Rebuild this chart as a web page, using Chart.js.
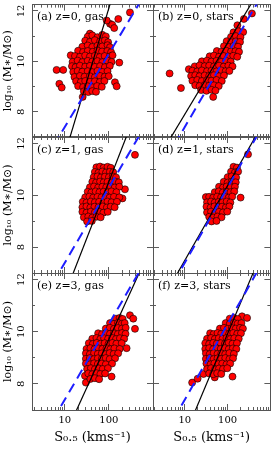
<!DOCTYPE html>
<html>
<head>
<meta charset="utf-8">
<script src="https://cdn.jsdelivr.net/npm/chart.js@4.4.0/dist/chart.umd.min.js"></script>
<style>
  html, body { margin: 0; padding: 0; background: #fff; }
  #wrap { position: relative; width: 275px; height: 451px; }
  #wrap canvas { position: absolute; left: 0; top: 0; }
</style>
</head>
<body>
<div id="wrap">
  <canvas id="pa" width="275" height="451"></canvas>
  <canvas id="pb" width="275" height="451"></canvas>
  <canvas id="pc" width="275" height="451"></canvas>
  <canvas id="pd" width="275" height="451"></canvas>
  <canvas id="pe" width="275" height="451"></canvas>
  <canvas id="pf" width="275" height="451"></canvas>
</div>
<script>
// ---- axis ticks ----
const sTicks = [10, 100];
const sMinorTicks = [2, 3, 4, 5, 6, 7, 8, 9, 20, 30, 40, 50, 60, 70, 80, 90, 200, 300, 400, 500, 600, 700, 800, 900];
const mTicks = [8, 10, 12];
const mMinorTicks = [7, 9, 11];

const panelLabels = ['(a) z=0, gas', '(b) z=0, stars', '(c) z=1, gas',
                     '(d) z=1, stars', '(e) z=3, gas', '(f) z=3, stars'];

// dashed reference relation (same in every panel), [S0.5, log M*]
const refLine = [[1, 4.5], [1000, 13.2]];

// solid fit in each panel
const fitA = [[5, 4.57], [500, 16.17]];
const fitB = [[2, 5.93], [1000, 13.55]];
const fitC = [[5, 4.85], [1000, 14.9]];
const fitD = [[2, 5.47], [1000, 13.27]];
const fitE = [[5, 4.9], [1000, 13.41]];
const fitF = [[5, 4.85], [1000, 13.83]];

// galaxies, [S0.5 (km/s), log10 M*]
const gasZ0 = [
  [6.5, 9.66], [9.2, 9.66], [7.5, 9.11], [8.5, 8.96], [13.6, 10.24], [37, 11.1], [25.4, 8.59],
  [137, 9.17], [150, 9.01], [172, 9.95], [300, 11.94], [106, 11.49], [89, 11.62], [163, 11.68],
  [119, 11.45], [132, 11.32],
  [33, 10.98], [42, 11.03], [55, 10.96], [71, 11.05], [85, 10.99],
  [29, 10.82], [37, 10.77], [48, 10.84], [63, 10.79], [81, 10.83], [96, 10.76],
  [25, 10.58], [33, 10.63], [42, 10.57], [55, 10.62], [71, 10.59], [93, 10.64], [106, 10.56],
  [20, 10.42], [26, 10.37], [33, 10.41], [43, 10.38], [55, 10.43], [70, 10.39], [92, 10.41], [112, 10.36],
  [17, 10.21], [22, 10.18], [29, 10.23], [37, 10.19], [48, 10.22], [62, 10.17], [80, 10.21], [104, 10.19], [121, 10.24],
  [15, 9.98], [19.5, 10.03], [25, 9.97], [33, 10.02], [42, 9.99], [55, 10.01], [71, 9.97], [92, 10.03], [115, 9.98],
  [14.5, 9.81], [17.5, 9.77], [22, 9.83], [29, 9.79], [37, 9.82], [48, 9.78], [63, 9.81], [81, 9.77], [105, 9.82],
  [15.5, 9.58], [19.5, 9.62], [25, 9.59], [33, 9.61], [42, 9.57], [55, 9.62], [71, 9.58], [93, 9.61],
  [16.5, 9.38], [22, 9.42], [28, 9.39], [37, 9.41], [48, 9.37], [63, 9.42], [80, 9.39], [99, 9.41],
  [18, 9.21], [23, 9.18], [29, 9.22], [37, 9.19], [48, 9.21], [62, 9.18], [79, 9.22],
  [20, 9.02], [26, 8.98], [33, 9.01], [42, 8.97], [54, 9.02], [69, 8.99],
  [27, 8.81], [34, 8.78], [42, 8.82], [51, 8.79]
];

const starsZ0 = [
  [4.4, 9.52], [8.1, 8.94], [12.4, 9.69], [46, 8.59], [370, 11.9], [240, 11.68], [169, 11.43],
  [137, 11.15], [178, 11.19], [231, 11.16],
  [120, 10.97], [156, 11.0], [200, 10.96],
  [95, 10.8], [120, 10.76], [155, 10.79], [195, 10.77],
  [82, 10.6], [106, 10.57], [137, 10.61], [175, 10.58],
  [56, 10.41], [72, 10.38], [93, 10.42], [120, 10.39], [152, 10.4], [185, 10.38],
  [38, 10.2], [48, 10.23], [63, 10.18], [81, 10.21], [105, 10.19], [135, 10.22], [168, 10.18],
  [25, 10.0], [33, 10.03], [42, 9.99], [55, 10.02], [71, 9.98], [92, 10.02], [118, 9.99],
  [17, 9.8], [22, 9.84], [29, 9.81], [37, 9.83], [48, 9.8], [63, 9.83], [81, 9.79], [104, 9.83], [130, 9.8],
  [15, 9.63], [19.5, 9.6], [25, 9.64], [33, 9.61], [42, 9.63], [55, 9.6], [71, 9.64], [90, 9.61], [110, 9.62],
  [14, 9.42], [17.5, 9.45], [22, 9.41], [29, 9.44], [37, 9.42], [48, 9.45], [63, 9.41], [82, 9.44],
  [15, 9.23], [19.5, 9.26], [25, 9.22], [33, 9.25], [42, 9.23], [55, 9.26], [73, 9.22],
  [17.5, 9.05], [22, 9.02], [29, 9.06], [37, 9.03], [48, 9.05], [62, 9.02],
  [24, 8.86], [32, 8.83], [42, 8.87], [52, 8.84]
];

const gasZ1 = [
  [231, 10.23], [390, 11.56], [203, 9.88],
  [52, 11.08], [63, 11.11], [76, 11.07], [93, 11.1], [110, 11.06],
  [48, 10.9], [58, 10.87], [71, 10.92], [86, 10.88], [105, 10.91], [125, 10.89],
  [45, 10.7], [55, 10.73], [66, 10.69], [81, 10.72], [100, 10.7], [122, 10.73], [145, 10.69],
  [42, 10.52], [51, 10.49], [63, 10.53], [76, 10.5], [93, 10.52], [115, 10.49], [140, 10.53], [168, 10.5],
  [37, 10.31], [46, 10.34], [57, 10.3], [71, 10.33], [87, 10.31], [110, 10.34], [135, 10.3], [172, 10.33],
  [33, 10.14], [40, 10.11], [50, 10.15], [61, 10.12], [76, 10.14], [93, 10.11], [115, 10.15], [148, 10.12],
  [29, 9.92], [36, 9.95], [44, 9.91], [55, 9.94], [68, 9.92], [84, 9.95], [104, 9.91], [130, 9.94], [172, 9.92],
  [25.5, 9.75], [31, 9.72], [39, 9.76], [48, 9.73], [60, 9.75], [75, 9.72], [93, 9.76], [115, 9.73], [152, 9.75],
  [25, 9.54], [31, 9.57], [38, 9.53], [47, 9.56], [58, 9.54], [72, 9.57], [90, 9.53], [110, 9.56], [135, 9.54],
  [25, 9.36], [31, 9.33], [39, 9.37], [48, 9.34], [60, 9.36], [75, 9.33], [94, 9.36],
  [27, 9.15], [34, 9.18], [42, 9.14], [52, 9.17], [65, 9.15],
  [32, 8.99], [41, 9.01]
];

const starsZ1 = [
  [201, 9.91], [300, 11.58],
  [137, 11.1], [165, 11.07],
  [120, 10.91], [148, 10.88], [176, 10.92],
  [100, 10.7], [125, 10.73], [158, 10.69],
  [81, 10.52], [100, 10.49], [125, 10.53], [155, 10.5],
  [63, 10.33], [78, 10.3], [95, 10.34], [118, 10.31], [148, 10.33],
  [50, 10.12], [62, 10.15], [77, 10.11], [95, 10.14], [117, 10.12], [143, 10.15],
  [31, 9.93], [37, 9.94], [46, 9.91], [57, 9.95], [70, 9.92], [86, 9.94], [106, 9.91], [128, 9.95],
  [33, 9.73], [41, 9.76], [50, 9.72], [62, 9.75], [77, 9.73], [95, 9.76], [116, 9.72],
  [32, 9.56], [40, 9.53], [49, 9.57], [60, 9.54], [74, 9.56], [91, 9.53], [110, 9.57],
  [33, 9.34], [41, 9.37], [51, 9.33], [63, 9.36], [78, 9.34], [98, 9.37],
  [37, 9.17], [46, 9.14], [58, 9.18], [72, 9.15],
  [42, 8.99], [55, 9.01]
];

const gasZ3 = [
  [300, 10.63], [357, 10.5], [390, 10.11], [252, 9.37], [115, 8.28], [28.6, 8.31], [30, 8.05],
  [145, 10.5], [175, 10.53], [205, 10.49],
  [106, 10.33], [130, 10.3], [160, 10.34], [198, 10.31], [228, 10.33],
  [85, 10.12], [105, 10.15], [130, 10.11], [160, 10.14], [198, 10.12], [240, 10.15],
  [57, 9.94], [70, 9.91], [86, 9.95], [106, 9.92], [130, 9.94], [160, 9.91], [198, 9.95], [238, 9.92],
  [42, 9.73], [52, 9.76], [64, 9.72], [78, 9.75], [96, 9.73], [118, 9.76], [145, 9.72], [178, 9.75], [222, 9.73],
  [35, 9.56], [43, 9.53], [53, 9.57], [65, 9.54], [80, 9.56], [98, 9.53], [120, 9.57], [148, 9.54], [195, 9.56],
  [31, 9.34], [38, 9.37], [47, 9.33], [58, 9.36], [71, 9.34], [88, 9.37], [108, 9.33], [133, 9.36], [175, 9.34],
  [30, 9.17], [37, 9.14], [46, 9.18], [56, 9.15], [69, 9.17], [85, 9.14], [104, 9.18], [128, 9.15], [162, 9.17],
  [30, 8.96], [37, 8.99], [46, 8.95], [56, 8.98], [69, 8.96], [85, 8.99], [104, 8.95], [138, 8.98],
  [30, 8.78], [37, 8.75], [46, 8.79], [56, 8.76], [69, 8.78], [85, 8.75], [118, 8.78],
  [32, 8.57], [39, 8.6], [48, 8.56], [59, 8.59], [72, 8.57], [95, 8.6],
  [34, 8.4], [42, 8.37], [52, 8.41], [64, 8.38], [82, 8.4],
  [38, 8.19], [48, 8.22], [60, 8.18]
];

const starsZ3 = [
  [217, 10.59], [285, 10.53], [14.8, 8.05], [19.9, 8.2], [27.2, 8.38], [130, 8.28], [50, 8.25],
  [112, 10.5], [140, 10.53], [172, 10.49],
  [90, 10.33], [112, 10.3], [140, 10.34], [172, 10.31], [210, 10.33],
  [66, 10.12], [82, 10.15], [100, 10.11], [125, 10.14], [155, 10.12], [195, 10.15], [228, 10.12],
  [39, 9.94], [47, 9.91], [58, 9.95], [71, 9.92], [88, 9.94], [108, 9.91], [135, 9.95], [168, 9.92], [205, 9.94],
  [33, 9.73], [41, 9.76], [50, 9.72], [62, 9.75], [76, 9.73], [94, 9.76], [116, 9.72], [143, 9.75], [182, 9.73],
  [30, 9.56], [37, 9.53], [46, 9.57], [56, 9.54], [69, 9.56], [86, 9.53], [106, 9.57], [130, 9.54], [165, 9.56],
  [30, 9.34], [37, 9.37], [46, 9.33], [56, 9.36], [69, 9.34], [86, 9.37], [106, 9.33], [132, 9.36], [160, 9.34],
  [31, 9.17], [38, 9.14], [47, 9.18], [58, 9.15], [71, 9.17], [88, 9.14], [110, 9.18], [140, 9.15],
  [31, 8.96], [38, 8.99], [47, 8.95], [58, 8.98], [71, 8.96], [88, 8.99], [110, 8.95], [134, 8.98],
  [32, 8.78], [40, 8.75], [49, 8.79], [61, 8.76], [75, 8.78], [94, 8.75], [115, 8.78],
  [33, 8.57], [41, 8.6], [51, 8.56], [63, 8.59], [78, 8.57], [98, 8.6],
  [37, 8.4], [46, 8.37], [57, 8.41], [71, 8.38]
];

// ---- page layout (pixels) ----
const colLeft = [32, 153], colRight = [153, 274];
const rowTop = [2, 137, 273], rowBottom = [137, 273, 410];

Chart.defaults.font.family = "'DejaVu Serif', serif";
Chart.defaults.color = '#000';

const toXY = arr => arr.map(p => ({ x: p[0], y: p[1] }));
const setTicks = vals => axis => { axis.ticks = vals.map(v => ({ value: v })); };
const fixSize = size => axis => {
  if (axis.isHorizontal()) axis.height = size; else axis.width = size;
  axis.paddingTop = axis.paddingBottom = axis.paddingLeft = axis.paddingRight = 0;
};

function sAxis(pos, vals, len, labels, weight) {
  return {
    type: 'logarithmic', position: pos, min: 1.8, max: 1000, weight: weight,
    afterBuildTicks: setTicks(vals),
    afterFit: fixSize(labels ? 41 : 0),
    border: { display: len > 4, color: '#555', width: 1 },
    grid: { drawOnChartArea: false, tickLength: -len, color: '#333', lineWidth: 0.8 },
    ticks: { display: labels, autoSkip: false, maxRotation: 0, padding: 10, font: { size: 10 },
             callback: v => String(v) },
    title: { display: labels, text: 'S₀.₅ (kms⁻¹)', font: { size: 13 }, padding: { top: 0, bottom: 6 } }
  };
}

function mAxis(pos, vals, len, labels, weight) {
  return {
    type: 'linear', position: pos, min: 7, max: 12.25, weight: weight,
    afterBuildTicks: setTicks(vals),
    // tick labels on the left axis read upwards
    afterCalculateLabelRotation: axis => { axis.labelRotation = 90; },
    afterFit: fixSize(labels ? 32 : 0),
    border: { display: len > 4, color: '#555', width: 1 },
    grid: { drawOnChartArea: false, tickLength: -len, color: '#333', lineWidth: 0.8 },
    ticks: { display: labels, autoSkip: false, crossAlign: 'center',
             padding: 10, font: { size: 10 }, callback: v => String(v) },
    title: { display: labels, text: 'log₁₀ (M∗/M⊙)', font: { size: 11 }, padding: { top: 2, bottom: 0 } }
  };
}

const panelLabel = {
  id: 'panelLabel',
  afterDatasetsDraw(chart, args, opts) {
    const { ctx, chartArea } = chart;
    ctx.save();
    ctx.font = "11px 'DejaVu Serif'";
    ctx.fillStyle = '#000';
    ctx.textBaseline = 'middle';
    ctx.fillText(opts.text, chartArea.left + 5, chartArea.top + 13);
    ctx.restore();
  }
};

const panels = [
  { id: 'pa', pts: gasZ0, fit: fitA, col: 0, row: 0 },
  { id: 'pb', pts: starsZ0, fit: fitB, col: 1, row: 0 },
  { id: 'pc', pts: gasZ1, fit: fitC, col: 0, row: 1 },
  { id: 'pd', pts: starsZ1, fit: fitD, col: 1, row: 1 },
  { id: 'pe', pts: gasZ3, fit: fitE, col: 0, row: 2 },
  { id: 'pf', pts: starsZ3, fit: fitF, col: 1, row: 2 }
];

panels.forEach((p, i) => {
  const left = p.col === 0, bottom = p.row === 2;
  new Chart(document.getElementById(p.id), {
    type: 'scatter',
    data: {
      datasets: [
        { data: toXY(refLine), showLine: true, borderColor: '#1e1eff', borderWidth: 2,
          borderDash: [10, 6], pointRadius: 0, clip: 0, order: 1 },
        { data: toXY(p.fit), showLine: true, borderColor: '#000', borderWidth: 1.2,
          pointRadius: 0, clip: 0, order: 1 },
        { data: toXY(p.pts), backgroundColor: '#ff0000', borderColor: '#000', borderWidth: 0.6,
          pointRadius: 3.5, clip: 0, order: 2 }
      ]
    },
    options: {
      responsive: false,
      animation: false,
      events: [],
      layout: {
        padding: {
          left: left ? 0 : colLeft[1],
          right: 275 - colRight[p.col],
          top: rowTop[p.row],
          bottom: bottom ? 0 : 451 - rowBottom[p.row]
        }
      },
      scales: {
        x: sAxis('bottom', sTicks, 6, bottom, 1),
        xMinor: sAxis('bottom', sMinorTicks, 3, false, 0),
        xTop: sAxis('top', sTicks, 6, false, 0),
        xTopMinor: sAxis('top', sMinorTicks, 3, false, 0),
        y: mAxis('left', mTicks, 6, left, 1),
        yMinor: mAxis('left', mMinorTicks, 3, false, 0),
        yRight: mAxis('right', mTicks, 6, false, 0),
        yRightMinor: mAxis('right', mMinorTicks, 3, false, 0)
      },
      plugins: {
        legend: { display: false },
        tooltip: { enabled: false },
        panelLabel: { text: panelLabels[i] }
      }
    },
    plugins: [panelLabel]
  });
});
</script>
</body>
</html>
